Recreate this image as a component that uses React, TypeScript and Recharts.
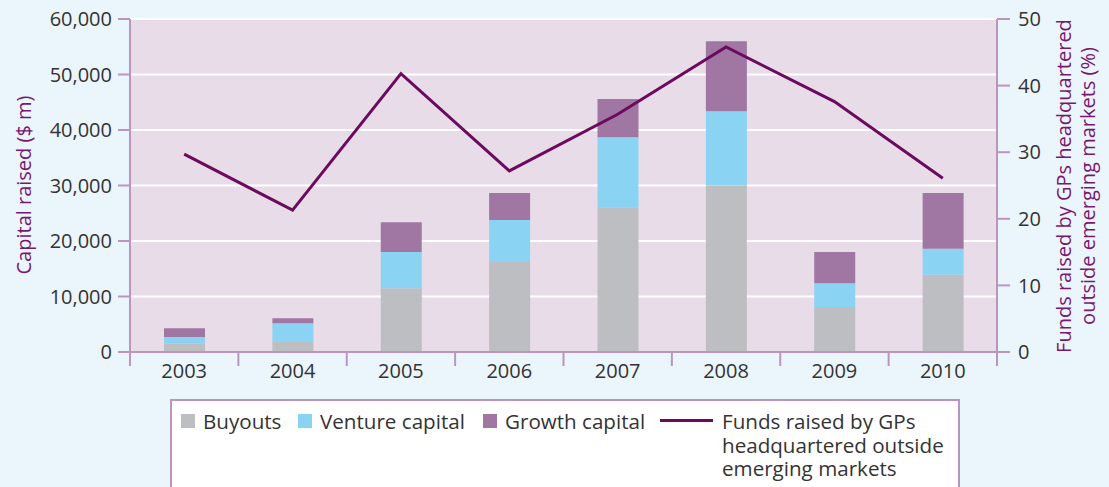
import React from "react";
import {
  ComposedChart,
  Bar,
  Line,
  XAxis,
  YAxis,
  CartesianGrid,
} from "recharts";

const years = ["2003", "2004", "2005", "2006", "2007", "2008", "2009", "2010"];
const buyouts = [1500, 1800, 11500, 16200, 26100, 30000, 8100, 13900];
const venture = [1200, 3400, 6500, 7600, 12600, 13400, 4300, 4700];
const growth = [1600, 900, 5400, 4850, 6900, 12600, 5600, 10050];
const fundsOutside = [29.7, 21.3, 41.8, 27.2, 35.7, 45.8, 37.6, 26.1];

const leftTicks = [0, 10000, 20000, 30000, 40000, 50000, 60000];
const rightTicks = [0, 10, 20, 30, 40, 50];

const data = years.map((y, i) => ({
  year: y,
  buyouts: buyouts[i],
  venture: venture[i],
  growth: growth[i],
  funds: fundsOutside[i],
}));

const FONT = "'Open Sans', sans-serif";
const TEXT = "#333333";
const AXIS = "#BB94C0";
const LABEL = "#7A1770";
const C_BUY = "#BDBEC2";
const C_VEN = "#8AD3F3";
const C_GRO = "#A077A2";
const C_LINE = "#6C0A5E";

const XTick = (props: any) => {
  const { x, y, payload } = props;
  const off = payload && payload.offset ? payload.offset : 54.2;
  return (
    <g>
      <line x1={x + off} x2={x + off} y1={y - 8} y2={y + 6} stroke={AXIS} strokeWidth={2} />
      {props.index === 0 && (
        <line x1={x - off} x2={x - off} y1={y - 8} y2={y + 6} stroke={AXIS} strokeWidth={2} />
      )}
      <text x={x} y={y + 18} textAnchor="middle" fill={TEXT} fontSize={20} fontFamily={FONT}>
        {payload.value}
      </text>
    </g>
  );
};

const LeftLabel = () => {
  const cx = 23;
  const cy = 185;
  return (
    <text
      x={cx}
      y={cy}
      transform={`rotate(-90, ${cx}, ${cy})`}
      textAnchor="middle"
      dominantBaseline="central"
      fill={LABEL}
      fontSize={20}
      fontFamily={FONT}
    >
      Capital raised ($ m)
    </text>
  );
};

const RightLabel = () => {
  const cy = 186;
  const x1 = 1063;
  const x2 = 1087;
  return (
    <g>
      <text
        x={x1}
        y={cy}
        transform={`rotate(-90, ${x1}, ${cy})`}
        textAnchor="middle"
        dominantBaseline="central"
        fill={LABEL}
        fontSize={20}
        fontFamily={FONT}
      >
        Funds raised by GPs headquartered
      </text>
      <text
        x={x2}
        y={cy}
        transform={`rotate(-90, ${x2}, ${cy})`}
        textAnchor="middle"
        dominantBaseline="central"
        fill={LABEL}
        fontSize={20}
        fontFamily={FONT}
      >
        outside emerging markets (%)
      </text>
    </g>
  );
};

const Swatch = ({ color }: { color: string }) => (
  <span
    style={{
      display: "inline-block",
      width: 14,
      height: 14,
      background: color,
      marginRight: 8,
      verticalAlign: "middle",
      position: "relative",
      top: -2,
    }}
  />
);

export default function App() {
  return (
    <div
      style={{
        position: "absolute",
        left: 0,
        top: 0,
        width: 1109,
        height: 487,
        background: "#EBF5FC",
        overflow: "hidden",
        fontFamily: FONT,
      }}
    >
      <ComposedChart
        width={1109}
        height={487}
        data={data}
        margin={{ top: 19, left: 20, right: 12, bottom: 95 }}
      >
        <CartesianGrid
          yAxisId="left"
          vertical={false}
          stroke="#FFFFFF"
          strokeWidth={2}
          fill="#E7DCE8"
          fillOpacity={1}
        />
        <XAxis
          dataKey="year"
          height={40}
          axisLine={{ stroke: AXIS, strokeWidth: 2 }}
          tickLine={false}
          tick={<XTick />}
          interval={0}
        />
        <YAxis
          yAxisId="left"
          width={110}
          domain={[0, 60000]}
          ticks={leftTicks}
          tickFormatter={(v: number) => v.toLocaleString("en-US")}
          axisLine={{ stroke: AXIS, strokeWidth: 2 }}
          tickLine={{ stroke: AXIS, strokeWidth: 2 }}
          tickSize={12}
          tickMargin={6}
          tick={{ fill: TEXT, fontSize: 20, fontFamily: FONT }}
          label={<LeftLabel />}
        />
        <YAxis
          yAxisId="right"
          orientation="right"
          width={100}
          domain={[0, 50]}
          ticks={rightTicks}
          axisLine={{ stroke: AXIS, strokeWidth: 2 }}
          tickLine={{ stroke: AXIS, strokeWidth: 2 }}
          tickSize={13}
          tickMargin={8}
          tick={{ fill: TEXT, fontSize: 20, fontFamily: FONT }}
          label={<RightLabel />}
        />
        <Bar yAxisId="left" dataKey="buyouts" stackId="a" fill={C_BUY} barSize={41} isAnimationActive={false} />
        <Bar yAxisId="left" dataKey="venture" stackId="a" fill={C_VEN} barSize={41} isAnimationActive={false} />
        <Bar yAxisId="left" dataKey="growth" stackId="a" fill={C_GRO} barSize={41} isAnimationActive={false} />
        <Line
          yAxisId="right"
          dataKey="funds"
          stroke={C_LINE}
          strokeWidth={3}
          dot={false}
          type="linear"
          isAnimationActive={false}
        />
      </ComposedChart>
      <div
        style={{
          position: "absolute",
          left: 170,
          top: 399,
          width: 786,
          height: 100,
          border: `2px solid ${AXIS}`,
          background: "#FFFFFF",
          color: TEXT,
          fontSize: 20.6,
          lineHeight: "23.5px",
          fontFamily: FONT,
        }}
      >
        <div style={{ position: "absolute", left: 9, top: 9, whiteSpace: "nowrap" }}>
          <Swatch color={C_BUY} />Buyouts
        </div>
        <div style={{ position: "absolute", left: 126, top: 9, whiteSpace: "nowrap" }}>
          <Swatch color={C_VEN} />Venture capital
        </div>
        <div style={{ position: "absolute", left: 311, top: 9, whiteSpace: "nowrap" }}>
          <Swatch color={C_GRO} />Growth capital
        </div>
        <div style={{ position: "absolute", left: 488, top: 9, whiteSpace: "nowrap" }}>
          <span
            style={{
              display: "inline-block",
              width: 53,
              height: 3,
              background: C_LINE,
              verticalAlign: "middle",
              position: "relative",
              top: -3,
            }}
          />
        </div>
        <div style={{ position: "absolute", left: 550, top: 9, whiteSpace: "nowrap" }}>
          Funds raised by GPs
          <br />
          headquartered outside
          <br />
          emerging markets
        </div>
      </div>
    </div>
  );
}
